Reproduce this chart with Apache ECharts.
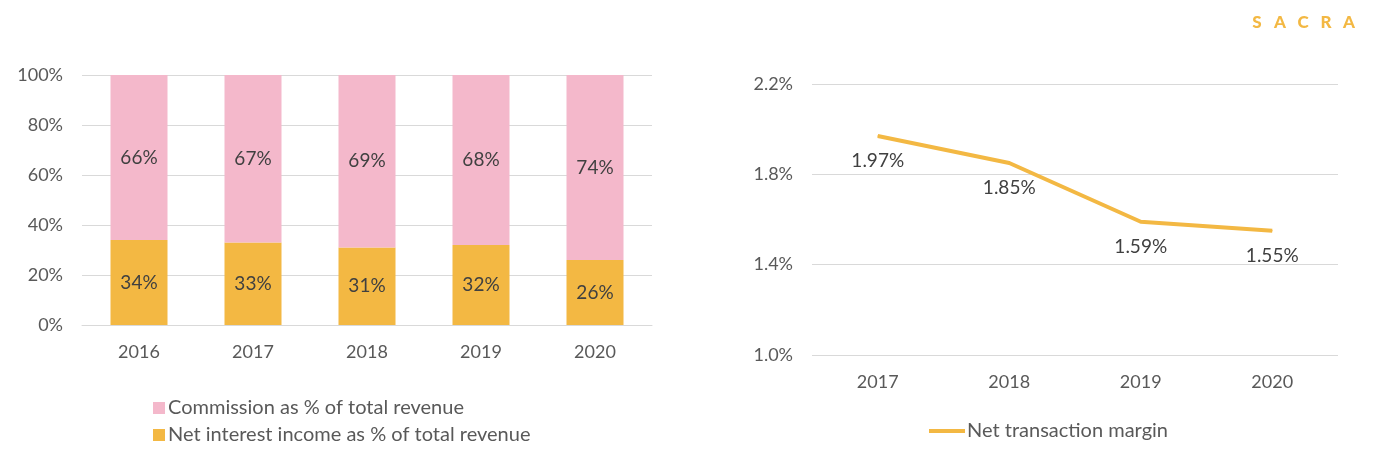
<!DOCTYPE html>
<html><head><meta charset="utf-8">
<script src="https://cdn.jsdelivr.net/npm/echarts@6/dist/echarts.min.js"></script>
<style>html,body{margin:0;padding:0;background:#fff}#c{width:1378px;height:456px}</style>
</head><body><div id="c"></div>
<script>
const barYears = ['2016','2017','2018','2019','2020'];
const netInterestPct = [34,33,31,32,26];
const commissionPct = [66,67,69,68,74];
const lineYears = ['2017','2018','2019','2020'];
const netTransactionMargin = [1.97,1.85,1.59,1.55];
const leftTicks = [0,20,40,60,80,100];
const rightTicks = [1.0,1.4,1.8,2.2];
const brandLetters = ['S','A','C','R','A'];

const FONT = 'Lato, "Open Sans", sans-serif';
const PINK = '#F4B8CB', GOLD = '#F3B843';
const axisText = {color:'#595959', fontSize:18, fontFamily:FONT};
const dataText = {color:'#404040', fontSize:19, fontFamily:FONT};
const chart = echarts.init(document.getElementById('c'));
chart.setOption({
  animation:false,
  graphic: brandLetters.map((ch,i)=>({type:'text', x:1257+i*23, y:23, style:{text:ch, fill:GOLD, font:'900 17px '+FONT, align:'center', verticalAlign:'middle'}})),
  legend:[
    {data:[{name:'Commission as % of total revenue', itemStyle:{color:PINK}},{name:'Net interest income as % of total revenue', itemStyle:{color:GOLD}}], orient:'vertical', left:148, top:393, itemWidth:12, itemHeight:12, itemGap:7, icon:'rect', textStyle:{color:'#595959', fontSize:20, fontFamily:FONT, padding:[0,0,0,-2]}},
    {data:[{name:'Net transaction margin', itemStyle:{color:GOLD}}], left:924, top:416, itemWidth:36, itemHeight:4, icon:'rect', textStyle:{color:'#595959', fontSize:20, fontFamily:FONT, padding:[0,0,0,-3]}}
  ],
  grid:[
    {left:82, width:570, top:75, height:250},
    {left:812, width:526, top:84, height:271}
  ],
  xAxis:[
    {type:'category', gridIndex:0, data:barYears, axisLine:{lineStyle:{color:'#d9d9d9'}}, axisTick:{show:false}, axisLabel:Object.assign({margin:18}, axisText)},
    {type:'category', gridIndex:1, data:lineYears, axisLine:{show:false}, axisTick:{show:false}, axisLabel:Object.assign({margin:18}, axisText)}
  ],
  yAxis:[
    {type:'value', gridIndex:0, min:leftTicks[0], max:leftTicks[leftTicks.length-1], interval:20, axisLine:{show:false}, axisTick:{show:false}, splitLine:{lineStyle:{color:'#d9d9d9'}}, axisLabel:Object.assign({margin:19, formatter:v=>v+'%'}, axisText)},
    {type:'value', gridIndex:1, min:rightTicks[0], max:rightTicks[rightTicks.length-1], interval:0.4, axisLine:{show:false}, axisTick:{show:false}, splitLine:{lineStyle:{color:'#d9d9d9'}}, axisLabel:Object.assign({margin:19, formatter:v=>v.toFixed(1)+'%'}, axisText)}
  ],
  series:[
    {name:'Net interest income as % of total revenue', type:'bar', stack:'a', xAxisIndex:0, yAxisIndex:0, data:netInterestPct, barWidth:'50%', itemStyle:{color:GOLD}, label:Object.assign({show:true, position:'inside', formatter:'{c}%'}, dataText)},
    {name:'Commission as % of total revenue', type:'bar', stack:'a', xAxisIndex:0, yAxisIndex:0, data:commissionPct, barWidth:'50%', itemStyle:{color:PINK}, label:Object.assign({show:true, position:'inside', formatter:'{c}%'}, dataText)},
    {name:'Net transaction margin', type:'line', xAxisIndex:1, yAxisIndex:1, data:netTransactionMargin, symbol:'circle', symbolSize:1, showSymbol:true, lineStyle:{color:GOLD, width:4}, itemStyle:{color:GOLD}, label:Object.assign({show:true, position:'bottom', distance:15, formatter:p=>p.value.toFixed(2)+'%'}, dataText)}
  ]
});
</script></body></html>
